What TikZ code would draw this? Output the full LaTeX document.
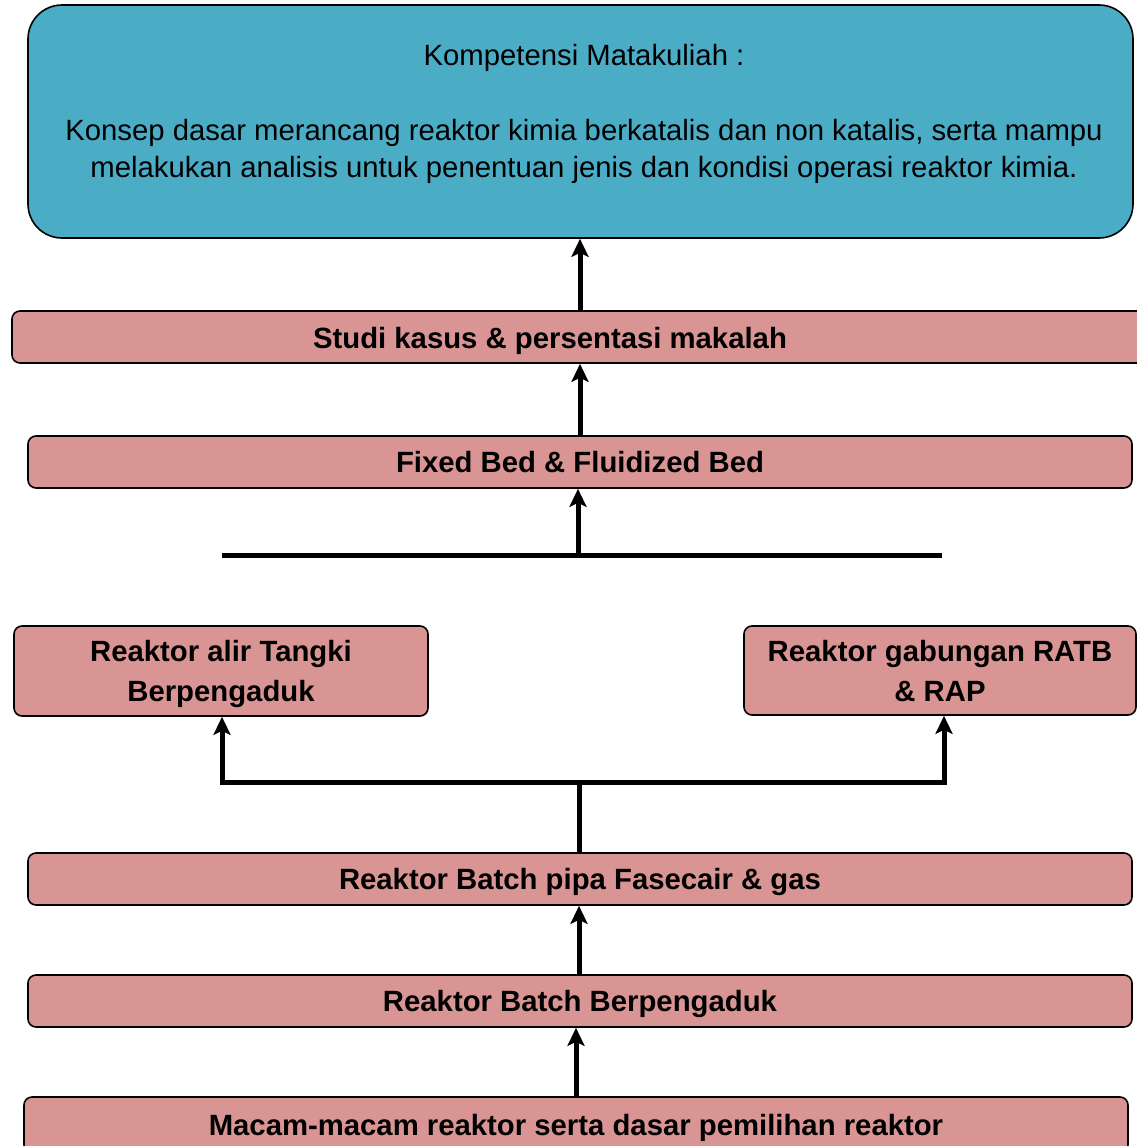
\documentclass[tikz,border=0pt]{standalone}
\usepackage{fontspec}
\setmainfont{Liberation Sans}
\usetikzlibrary{arrows.meta}
\definecolor{pinkc}{RGB}{217,149,148}
\definecolor{tealc}{RGB}{75,172,198}
\begin{document}
\begin{tikzpicture}[x=1pt,y=-1pt,
  pinkbox/.style={draw=black, line width=1.6pt, fill=pinkc, rounded corners=8pt, inner sep=0pt, align=center, text depth=0pt, font=\fontsize{29.3}{40}\selectfont\bfseries},
  bigbox/.style={draw=black, line width=1.6pt, fill=tealc, rounded corners=34pt, inner sep=0pt},
  lbl/.style={inner sep=0pt, align=center, text depth=0pt, font=\fontsize{29.3}{40}\selectfont\bfseries},
  toptext/.style={inner sep=0pt, align=center, font=\fontsize{29.3}{37.5}\selectfont},
  conn/.style={line width=5pt, draw=black},
  arr/.style={line width=5pt, draw=black, -{Stealth[length=18pt,width=17pt,inset=4pt]}}]
\useasboundingbox (0,0) rectangle (1136,1146);
% boxes
\node[bigbox, minimum width=1105pt, minimum height=233pt] (top) at (580.5,121.5) {};
\node[toptext] (toptxt) at (584,114) {Kompetensi Matakuliah :\\[0pt] \\ Konsep dasar merancang reaktor kimia berkatalis dan non katalis, serta mampu\\melakukan analisis untuk penentuan jenis dan kondisi operasi reaktor kimia.};
\node[pinkbox, minimum width=1140pt, minimum height=52pt] (b2) at (582,337) {};
\node[lbl] (b2txt) at (550,338) {Studi kasus \& persentasi makalah};
\node[pinkbox, minimum width=1104pt, minimum height=52pt] (b3) at (580,462) {Fixed Bed \& Fluidized Bed};
\node[pinkbox, minimum width=414pt, minimum height=90pt] (b4) at (221,671) {Reaktor alir Tangki\\Berpengaduk};
\node[pinkbox, minimum width=392pt, minimum height=89pt] (b5) at (940,670.5) {Reaktor gabungan RATB\\\& RAP};
\node[pinkbox, minimum width=1104pt, minimum height=52pt] (b6) at (580,879) {Reaktor Batch pipa Fasecair \& gas};
\node[pinkbox, minimum width=1104pt, minimum height=52pt] (b7) at (580,1001) {Reaktor Batch Berpengaduk};
\node[pinkbox, minimum width=1104pt, minimum height=56pt] (b8) at (576,1125) {Macam-macam reaktor serta dasar pemilihan reaktor};
% guide coordinates
\coordinate (xa) at (580,0);
\coordinate (xb) at (578,0);
\coordinate (xc) at (579,0);
\coordinate (xd) at (576,0);
\coordinate (barL) at (222,555);
\coordinate (barR) at (942,555);
\coordinate (jL) at (222,782);
\coordinate (jR) at (944,782);
\coordinate (jC) at (579,782);
% connectors
\draw[arr] (b2.north -| xa) -- (top.south -| xa);
\draw[arr] (b3.north -| xa) -- (b2.south -| xa);
\draw[conn] (barL) -- (barR);
\draw[arr] (barL -| xb) -- (b3.south -| xb);
\draw[conn] (b6.north -| xc) -- (jC);
\draw[conn] ([xshift=-2.5pt]jL) -- ([xshift=2.5pt]jR);
\draw[arr] ([yshift=2.5pt]jL) -- (b4.south -| jL);
\draw[arr] ([yshift=2.5pt]jR) -- (b5.south -| jR);
\draw[arr] (b7.north -| xc) -- (b6.south -| xc);
\draw[arr] (b8.north -| xd) -- (b7.south -| xd);
\end{tikzpicture}
\end{document}
